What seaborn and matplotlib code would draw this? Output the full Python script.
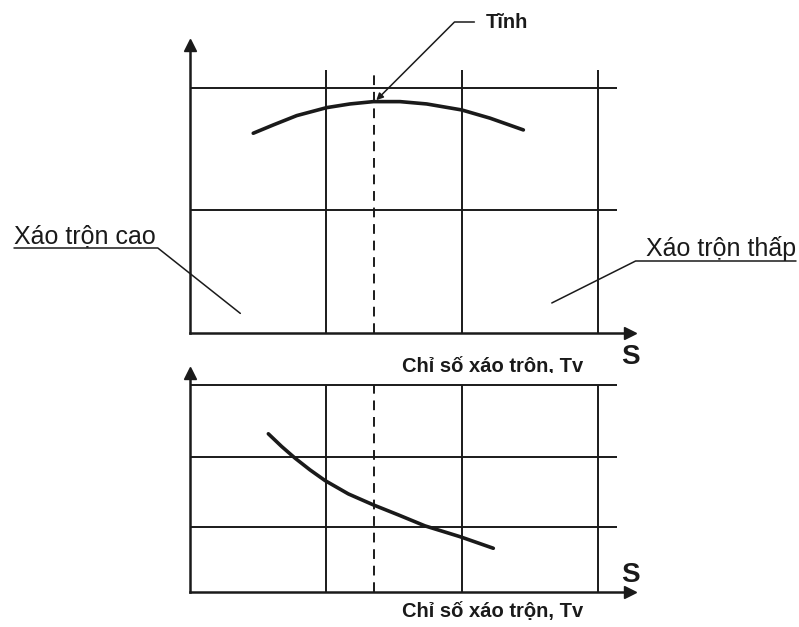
import matplotlib
matplotlib.use("Agg")
import matplotlib.pyplot as plt
import seaborn as sns
import pandas as pd

# ------------------------------------------------------
# DATA (arbitrary units)
top_x = [0.465, 0.613, 0.785, 1.005, 1.176, 1.348, 1.544, 1.740, 1.998, 2.206, 2.451]
top_y = [1.630, 1.698, 1.774, 1.839, 1.869, 1.888, 1.888, 1.869, 1.820, 1.753, 1.657]
bottom_x = [0.576, 0.674, 0.772, 0.882, 0.993, 1.164, 1.348, 1.532, 1.728, 1.985, 2.230]
bottom_y = [2.290, 2.106, 1.938, 1.768, 1.613, 1.420, 1.261, 1.116, 0.957, 0.801, 0.633]

grid_x = [1.0, 2.0, 3.0]
top_grid_y = [1.0, 2.0]
bottom_grid_y = [0.94, 1.96, 3.0]
static_x = 1.35  # dashed line ("Tĩnh")

xlabel_txt = "Chỉ số xáo trộn, Tv"
high_txt = "Xáo trộn cao"
low_txt = "Xáo trộn thấp"
static_txt = "Tĩnh"

# ------------------------------------------------------
sns.set_style("white")
plt.rcParams['font.family'] = ['Liberation Sans', 'DejaVu Sans']

W, H = 799, 627
fig = plt.figure(figsize=(W / 100, H / 100), dpi=100)


def px_rect(left, top, right, bottom):
    return [left / W, 1 - bottom / H, (right - left) / W, (bottom - top) / H]


ax1 = fig.add_axes(px_rect(190, 45, 630, 333))
ax2 = fig.add_axes(px_rect(190, 373, 630, 592))
ax1.set_xlim(0, 3.235)
ax1.set_ylim(0, 2.35)
ax2.set_xlim(0, 3.235)
ax2.set_ylim(0, 3.17)

lc = "#1a1a1a"
for ax, gy, vtop in [(ax1, top_grid_y, 2.15), (ax2, bottom_grid_y, 3.0)]:
    for s in ["top", "right"]:
        ax.spines[s].set_visible(False)
    for s in ["left", "bottom"]:
        ax.spines[s].set_linewidth(1.8)
        ax.spines[s].set_color(lc)
    ax.set_xticks([])
    ax.set_yticks([])
    ax.hlines(gy, 0, 3.14, color=lc, lw=1.4)
    ax.vlines(grid_x, 0, vtop, color=lc, lw=1.4)
    ax.vlines(static_x, 0, vtop, color=lc, lw=1.4, linestyles=(0, (5, 3.5)))
    # axis arrows
    ax.plot(1, 0, ">", color=lc, ms=8, transform=ax.transAxes, clip_on=False)
    ax.plot(0, 1, "^", color=lc, ms=8, transform=ax.transAxes, clip_on=False)

sns.lineplot(data=pd.DataFrame({"x": top_x, "y": top_y}), x="x", y="y",
             ax=ax1, color=lc, lw=2.6, sort=False)
sns.lineplot(data=pd.DataFrame({"x": bottom_x, "y": bottom_y}), x="x", y="y",
             ax=ax2, color=lc, lw=2.6, sort=False)
for ax in (ax1, ax2):
    ax.set_xlabel("")
    ax.set_ylabel("")

# axis captions
ax1.text(1.002, -0.083, "S", transform=ax1.transAxes, ha="center", va="center",
         fontsize=20, fontweight="bold", color=lc)
ax1.text(0.6875, -0.115, xlabel_txt, transform=ax1.transAxes, ha="center",
         va="center", fontsize=14.5, fontweight="bold", color=lc)
ax2.text(1.002, 0.078, "S", transform=ax2.transAxes, ha="center", va="center",
         fontsize=20, fontweight="bold", color=lc)
ax2.text(0.6875, -0.091, xlabel_txt, transform=ax2.transAxes, ha="center",
         va="center", fontsize=14.5, fontweight="bold", color=lc)

# annotations
ax1.annotate(static_txt, xy=(1.37, 1.90), xytext=(486, H - 22),
             textcoords="figure pixels", ha="left", va="center",
             fontsize=14.5, fontweight="bold", color=lc, annotation_clip=False,
             arrowprops=dict(arrowstyle="-|>", color=lc, lw=1.1,
                             connectionstyle="angle,angleA=0,angleB=45,rad=0",
                             relpos=(0, 0.5), shrinkA=6, shrinkB=0,
                             mutation_scale=10))
ax1.annotate(high_txt, xy=(0.37, 0.16), xytext=(14, H - 248),
             textcoords="figure pixels", ha="left", va="bottom",
             fontsize=18, color=lc, annotation_clip=False,
             arrowprops=dict(arrowstyle="-", color=lc, lw=1.1,
                             connectionstyle="angle,angleA=0,angleB=141.6,rad=0",
                             relpos=(0, 0), shrinkA=0, shrinkB=0, patchA=None))
ax1.annotate(low_txt, xy=(2.66, 0.245), xytext=(796, H - 261),
             textcoords="figure pixels", ha="right", va="bottom",
             fontsize=18, color=lc, annotation_clip=False,
             arrowprops=dict(arrowstyle="-", color=lc, lw=1.1,
                             connectionstyle="angle,angleA=0,angleB=26.6,rad=0",
                             relpos=(1, 0), shrinkA=0, shrinkB=0, patchA=None))

fig.savefig("out.png", dpi=100)
